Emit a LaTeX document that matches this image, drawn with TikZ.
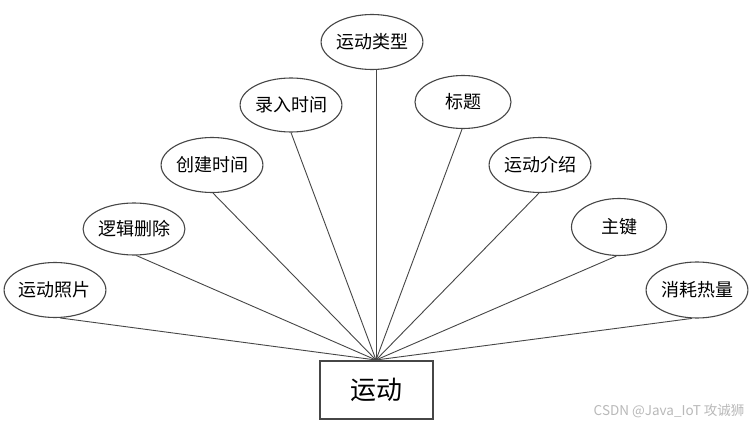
\documentclass[tikz,border=0pt]{standalone}
\usepackage{fontspec}
\setmainfont{Noto Sans CJK SC}
\usetikzlibrary{shapes.geometric}
\definecolor{edgegray}{RGB}{70,70,70}
\definecolor{wmgray}{RGB}{185,185,185}
\tikzset{
  attr/.style={draw=edgegray, line width=1.1pt, ellipse, inner sep=0pt,
    minimum width=95pt, minimum height=55pt, font=\fontsize{18pt}{20pt}\selectfont},
  entity/.style={draw=edgegray, line width=1.1pt, rectangle, inner sep=0pt,
    minimum width=113pt, minimum height=58pt, font=\fontsize{26pt}{30pt}\selectfont},
  link/.style={draw=edgegray, line width=0.9pt}
}
\begin{document}
\begin{tikzpicture}[x=1pt,y=-1pt]
\useasboundingbox[fill=white] (0,0) rectangle (753,428);
\node[entity] (e) at (376.5,390) {运动};
\coordinate (hub) at (376,360);
\node[attr] (a1) at (55,290) {运动照片};
\node[attr, minimum width=96pt, minimum height=52pt] (a2) at (134,229) {逻辑删除};
\node[attr] (a3) at (212,165) {创建时间};
\node[attr, minimum height=54pt] (a4) at (291,105) {录入时间};
\node[attr, minimum width=88pt] (a5) at (372,42) {运动类型};
\node[attr, minimum width=96pt, minimum height=53pt] (a6) at (463,102) {标题};
\node[attr] (a7) at (540,165) {运动介绍};
\node[attr, minimum height=57pt] (a8) at (619,227) {主键};
\node[attr, minimum width=97pt, minimum height=56pt] (a9) at (697,290) {消耗热量};
\draw[link] (a1.-80) -- (hub);
\draw[link] (a2.-85) -- (hub);
\draw[link] (a3.-88) -- (hub);
\draw[link] (a4.south) -- (hub);
\draw[link] (a5.south -| hub) -- (hub);
\draw[link] (a6.-92) -- (hub);
\draw[link] (a7.-92) -- (hub);
\draw[link] (a8.-95) -- (hub);
\draw[link] (a9.-100) -- (hub);
\node[text=wmgray, font=\fontsize{13.5pt}{15pt}\selectfont, anchor=east] (wm) at (748,411) {CSDN @Java\_IoT 攻诚狮};
\end{tikzpicture}
\end{document}
